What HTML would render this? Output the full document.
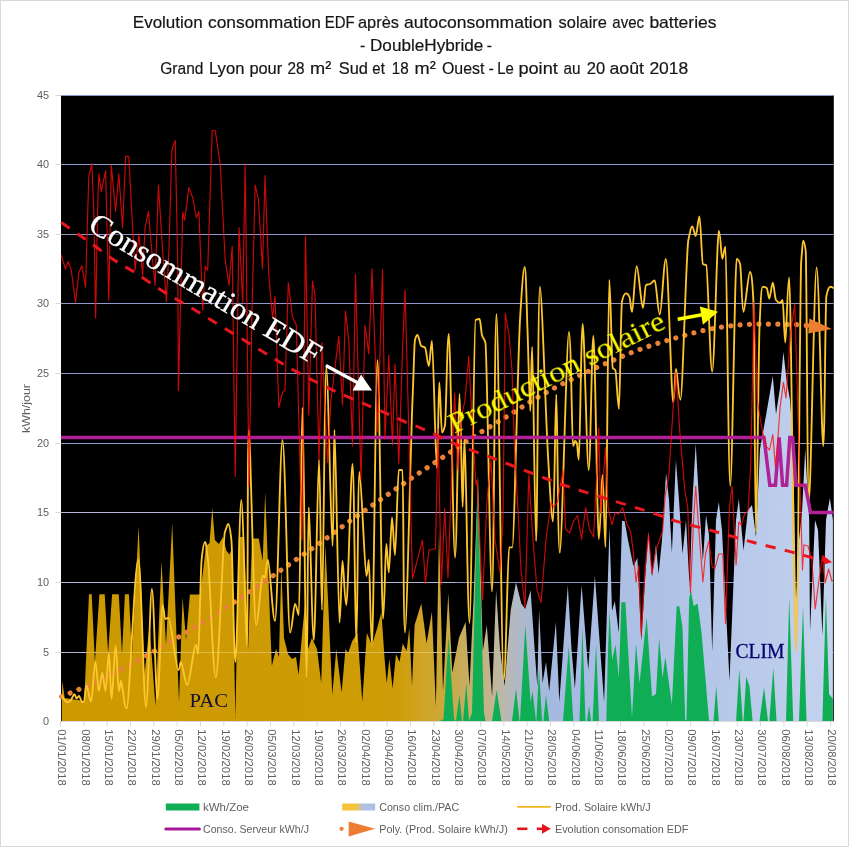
<!DOCTYPE html>
<html><head><meta charset="utf-8"><title>Evolution consommation EDF</title>
<style>html,body{margin:0;padding:0;background:#fff}body{width:849px;height:847px;overflow:hidden;font-family:"Liberation Sans",sans-serif}</style>
</head><body>
<svg width="849" height="847" viewBox="0 0 849 847" style="display:block;font-family:'Liberation Sans',sans-serif">
<defs>
<linearGradient id="g1" gradientUnits="userSpaceOnUse" x1="61" y1="0" x2="834" y2="0">
<stop offset="0" stop-color="#CC9900"/><stop offset="0.4321" stop-color="#CE9C06"/><stop offset="0.4709" stop-color="#D0A426"/><stop offset="0.4916" stop-color="#CDA837"/><stop offset="0.5123" stop-color="#C8AA50"/><stop offset="0.5330" stop-color="#C5B070"/><stop offset="0.5537" stop-color="#C3B48C"/><stop offset="0.5770" stop-color="#B9B9B4"/><stop offset="0.5925" stop-color="#AFB9C8"/><stop offset="0.6132" stop-color="#A8B9D8"/><stop offset="0.6391" stop-color="#A5B9E1"/><stop offset="0.8266" stop-color="#B3C5E8"/><stop offset="0.9987" stop-color="#C3D2EE"/>
</linearGradient>
<linearGradient id="g2" x1="0" y1="0" x2="1" y2="0"><stop offset="0" stop-color="#F7C232"/><stop offset="0.45" stop-color="#F3C446"/><stop offset="0.6" stop-color="#B4C2DE"/><stop offset="1" stop-color="#A9BEE6"/></linearGradient>
<clipPath id="cp"><rect x="59" y="95" width="774.8" height="626"/></clipPath>
<filter id="sh" x="-10%" y="-10%" width="120%" height="120%"><feGaussianBlur stdDeviation="0.6"/></filter>
</defs>
<rect x="0" y="0" width="849" height="847" fill="#fff"/>
<rect x="0.5" y="0.5" width="848" height="846" fill="none" stroke="#D9D9D9" stroke-width="1"/>
<rect x="61" y="95" width="772.8" height="626" fill="#000"/>
<line x1="55.5" x2="61" y1="652.50" y2="652.50" stroke="#D9D9D9" stroke-width="1"/>
<line x1="55.5" x2="61" y1="582.50" y2="582.50" stroke="#D9D9D9" stroke-width="1"/>
<line x1="55.5" x2="61" y1="512.50" y2="512.50" stroke="#D9D9D9" stroke-width="1"/>
<line x1="55.5" x2="61" y1="443.50" y2="443.50" stroke="#D9D9D9" stroke-width="1"/>
<line x1="55.5" x2="61" y1="373.50" y2="373.50" stroke="#D9D9D9" stroke-width="1"/>
<line x1="55.5" x2="61" y1="303.50" y2="303.50" stroke="#D9D9D9" stroke-width="1"/>
<line x1="55.5" x2="61" y1="234.50" y2="234.50" stroke="#D9D9D9" stroke-width="1"/>
<line x1="55.5" x2="61" y1="164.50" y2="164.50" stroke="#D9D9D9" stroke-width="1"/>
<line x1="55.5" x2="61" y1="95.50" y2="95.50" stroke="#D9D9D9" stroke-width="1"/>
<g clip-path="url(#cp)">
<line x1="61" x2="833.7" y1="652.50" y2="652.50" stroke="#9097CB" stroke-width="1.15"/>
<line x1="61" x2="833.7" y1="582.50" y2="582.50" stroke="#9097CB" stroke-width="1.15"/>
<line x1="61" x2="833.7" y1="512.50" y2="512.50" stroke="#9097CB" stroke-width="1.15"/>
<line x1="61" x2="833.7" y1="443.50" y2="443.50" stroke="#9097CB" stroke-width="1.15"/>
<line x1="61" x2="833.7" y1="373.50" y2="373.50" stroke="#9097CB" stroke-width="1.15"/>
<line x1="61" x2="833.7" y1="303.50" y2="303.50" stroke="#9097CB" stroke-width="1.15"/>
<line x1="61" x2="833.7" y1="234.50" y2="234.50" stroke="#9097CB" stroke-width="1.15"/>
<line x1="61" x2="833.7" y1="164.50" y2="164.50" stroke="#9097CB" stroke-width="1.15"/>
<line x1="61" x2="833.7" y1="95.50" y2="95.50" stroke="#9097CB" stroke-width="1.15"/>
<polygon points="61.8,721.0 61.8,697.0 62.4,681.0 64.6,698.0 84.2,701.0 89.0,594.3 91.7,594.3 94.9,662.0 99.4,594.3 104.7,594.3 108.1,653.0 112.1,594.3 118.8,594.3 122.0,654.0 124.9,594.3 128.9,594.3 132.0,657.0 138.6,526.0 144.5,675.0 149.5,625.0 155.4,706.0 161.5,561.0 166.0,645.0 172.2,523.0 179.0,702.0 182.6,597.0 186.0,640.0 189.9,594.5 200.2,594.5 206.0,546.0 209.5,543.0 212.3,508.0 214.9,540.0 218.9,544.0 222.9,537.0 226.3,550.5 229.5,554.5 232.2,548.0 235.4,718.0 238.8,537.0 244.1,537.0 248.1,649.0 252.1,538.5 258.8,538.5 262.7,561.0 265.2,492.0 268.5,580.0 271.8,666.0 276.0,649.0 279.0,657.0 281.3,566.0 284.0,638.0 288.0,654.0 292.0,659.0 296.0,657.0 298.6,675.0 302.6,628.0 305.3,601.0 308.0,649.0 311.9,638.0 317.0,649.0 321.2,683.0 325.4,545.0 328.5,610.0 332.3,695.0 336.3,649.0 341.6,692.6 345.5,649.0 348.2,653.0 352.2,641.0 357.5,633.0 362.3,702.0 366.8,633.0 372.0,645.0 377.4,627.5 381.4,612.0 384.6,659.0 386.7,683.0 389.4,659.0 392.6,688.6 396.0,654.0 399.5,662.0 402.7,643.5 406.7,651.0 409.3,627.5 412.0,686.0 414.6,625.0 421.3,603.6 426.6,643.5 431.9,611.6 435.9,707.0 439.0,530.0 443.0,691.0 448.3,593.0 452.3,672.7 458.9,638.0 465.6,622.0 469.5,686.0 473.5,600.0 478.0,475.0 482.8,651.0 486.8,625.0 492.1,696.6 496.1,590.0 500.0,649.0 504.6,686.0 510.7,610.0 516.0,582.4 521.3,603.6 525.3,609.0 530.6,590.3 534.6,649.0 537.3,686.0 539.1,609.0 542.6,683.0 546.0,662.0 549.2,691.0 555.9,622.0 559.3,702.0 567.8,585.0 571.5,649.0 574.9,688.6 581.6,585.0 588.2,670.0 594.9,575.7 599.0,633.0 604.1,702.0 609.5,526.6 612.0,611.0 614.8,601.0 618.8,632.8 622.0,521.0 624.6,521.0 628.0,540.0 633.4,566.0 637.4,558.0 641.3,641.0 645.0,580.0 648.5,531.4 652.0,576.6 656.0,544.7 658.6,574.0 662.0,540.0 666.0,473.0 669.0,500.0 671.9,552.7 675.9,459.7 679.0,500.0 682.5,554.0 686.0,520.0 689.6,587.0 692.5,500.0 695.7,443.5 699.0,500.0 702.9,561.0 706.0,515.0 709.0,535.0 712.2,651.4 716.0,520.0 718.8,502.0 722.0,530.0 729.5,680.7 736.0,520.0 738.8,499.0 743.5,550.5 748.0,510.0 752.0,505.0 756.0,537.0 760.0,449.0 766.7,411.6 772.8,375.7 776.0,414.2 780.0,387.7 783.4,352.0 786.6,380.0 790.0,400.0 793.0,440.0 796.0,600.0 799.0,540.0 802.0,512.0 805.2,448.8 809.2,520.0 810.0,631.5 815.0,520.0 818.0,530.0 822.4,635.5 826.0,520.0 829.9,498.0 832.9,520.0 832.9,721.0" fill="url(#g1)"/>
<polygon points="440.0,721.0 443.5,719.0 448.6,637.0 454.0,719.0 456.0,721.0 459.4,695.0 462.0,721.0 463.0,721.0 466.3,683.0 469.0,721.0 472.0,713.0 477.5,487.0 484.0,713.0 485.5,721.0 492.0,721.0 496.6,690.0 501.5,721.0 512.0,721.0 516.0,688.6 519.5,721.0 520.0,721.0 525.3,625.0 530.6,702.0 532.5,691.3 536.0,721.0 536.4,721.0 539.0,669.0 542.0,721.0 543.4,721.0 546.0,695.0 549.2,721.0 563.0,721.0 568.8,646.0 573.3,721.0 579.5,721.0 582.4,627.5 585.5,721.0 587.0,721.0 589.0,706.0 591.0,721.0 592.6,721.0 596.1,643.7 599.0,721.0 606.3,721.0 608.0,650.0 609.5,611.6 612.1,660.0 615.6,644.8 618.8,678.0 621.4,602.3 625.4,602.3 632.0,717.8 636.0,643.5 639.5,683.3 646.7,616.9 652.0,696.6 656.0,694.0 659.1,638.0 662.6,678.0 665.3,656.7 671.9,704.6 676.7,606.3 679.3,606.3 682.5,627.5 685.2,720.0 686.5,720.0 689.2,598.3 690.9,590.3 693.6,606.0 697.6,603.6 701.6,633.0 709.0,720.5 713.5,721.0 716.2,686.0 718.8,721.0 736.1,721.0 739.3,668.7 742.7,721.0 743.5,721.0 746.2,676.7 749.4,686.0 752.6,721.0 759.5,721.0 764.0,687.3 768.0,721.0 769.3,721.0 773.3,667.4 776.5,721.0 786.0,721.0 789.2,597.0 793.2,721.0 799.0,721.0 803.0,606.3 806.5,721.0 822.4,721.0 825.9,595.6 829.1,694.0 832.9,699.0 832.9,721.0" fill="#0FAE55"/>
<line x1="61" x2="455" y1="652.50" y2="652.50" stroke="#ffffff" stroke-width="1" opacity="0.3"/>
<line x1="61" x2="455" y1="582.50" y2="582.50" stroke="#ffffff" stroke-width="1" opacity="0.3"/>
<line x1="61" x2="455" y1="512.50" y2="512.50" stroke="#ffffff" stroke-width="1" opacity="0.3"/>
<path d="M61.6,696.6C67.3,694.2 84.4,687.2 95.6,682.0C106.8,676.8 117.9,671.1 128.9,665.2C139.9,659.4 151.0,653.1 161.8,646.9C172.6,640.7 183.2,634.5 193.7,628.0C204.2,621.5 214.5,615.0 224.9,608.2C235.3,601.5 245.9,594.6 256.3,587.5C266.7,580.4 277.1,572.8 287.5,565.5C297.9,558.2 308.6,551.1 318.8,543.8C329.0,536.5 338.6,529.1 348.8,521.8C359.0,514.5 369.6,507.2 380.0,500.0C390.4,492.8 400.8,485.4 411.3,478.3C421.8,471.2 432.4,464.2 442.9,457.2C453.3,450.2 463.4,443.2 474.0,436.5C484.6,429.8 495.6,423.4 506.2,416.9C516.8,410.4 527.0,403.5 537.8,397.3C548.6,391.1 559.7,385.1 570.8,379.6C581.9,374.1 592.9,369.1 604.2,364.2C615.5,359.2 626.9,354.2 638.5,349.9C650.1,345.6 662.1,341.9 673.9,338.5C685.7,335.1 697.2,331.6 709.5,329.2C721.8,326.8 734.5,325.2 747.5,324.4C760.5,323.6 779.1,324.3 787.4,324.4C795.6,324.4 795.4,324.6 797.0,324.7" fill="none" stroke="#E8813A" stroke-width="5.2" stroke-linecap="round" stroke-dasharray="0.01 9.385"/>
<path d="M62.2,696.0C62.5,696.6 63.1,698.5 64.0,699.5C64.9,700.5 66.3,702.3 67.4,702.3C68.5,702.3 69.3,701.8 70.5,700.8C71.7,699.8 73.3,694.2 74.3,694.2C75.3,694.2 75.8,698.5 76.6,698.5C77.4,698.5 78.1,695.8 79.0,695.8C79.9,695.8 81.2,702.0 82.0,702.0C82.8,702.0 83.2,701.8 84.0,701.5C84.8,701.2 85.3,685.5 86.5,685.5C87.7,685.5 89.5,701.5 91.0,701.5C92.5,701.5 94.1,662.0 95.4,662.0C96.7,662.0 97.7,691.0 98.8,691.0C99.9,691.0 101.2,673.0 102.3,673.0C103.4,673.0 104.4,691.0 105.5,691.0C106.6,691.0 107.9,653.0 108.9,653.0C109.9,653.0 110.5,699.0 111.6,699.0C112.7,699.0 114.4,646.0 115.6,646.0C116.8,646.0 117.9,691.0 118.8,691.0C119.7,691.0 120.3,681.0 121.0,681.0C121.7,681.0 121.8,685.4 122.8,690.0C123.8,694.6 124.2,708.6 126.7,708.6C129.2,708.6 134.9,559.6 138.1,559.6C141.3,559.6 143.6,707.0 145.9,707.0C148.2,707.0 150.0,589.0 151.9,589.0C153.8,589.0 155.7,699.0 157.4,699.0C159.2,699.0 161.1,605.0 162.4,605.0C163.7,605.0 164.2,619.0 165.2,619.0C166.2,619.0 166.4,618.0 168.6,618.0C170.8,618.0 176.1,670.0 178.2,670.0C180.3,670.0 179.5,662.0 181.0,662.0C182.5,662.0 184.9,685.0 187.3,685.0C189.7,685.0 193.8,645.0 195.6,645.0C197.4,645.0 197.2,654.0 198.2,654.0C199.2,654.0 200.4,572.0 201.6,560.0C202.8,548.0 204.1,542.0 205.2,542.0C206.3,542.0 206.2,548.0 208.0,560.0C209.8,572.0 213.0,677.5 215.8,677.5C218.6,677.5 222.8,537.3 224.9,532.0C227.0,526.7 227.1,524.0 228.2,524.0C229.3,524.0 230.2,529.3 231.4,540.0C232.6,550.7 233.8,662.0 235.4,662.0C237.1,662.0 239.4,500.0 241.3,500.0C243.2,500.0 245.6,645.0 246.8,645.0C248.1,645.0 247.2,430.0 248.8,430.0C250.4,430.0 253.8,625.0 256.1,625.0C258.4,625.0 261.0,576.0 262.5,576.0C264.0,576.0 264.1,577.5 265.0,577.5C265.9,577.5 266.3,560.0 268.0,560.0C269.7,560.0 272.6,621.0 275.0,621.0C277.4,621.0 280.0,440.0 282.5,440.0C285.0,440.0 287.9,632.5 290.0,632.5C292.1,632.5 293.5,603.8 295.0,603.8C296.5,603.8 297.6,615.0 298.8,615.0C300.1,615.0 301.2,407.5 302.5,407.5C303.8,407.5 305.4,677.0 306.5,677.0C307.6,677.0 307.6,507.5 308.8,507.5C310.0,507.5 312.1,640.0 313.8,640.0C315.5,640.0 317.6,460.0 319.0,460.0C320.4,460.0 320.8,610.0 322.0,610.0C323.2,610.0 324.6,367.5 326.3,367.5C328.1,367.5 331.1,546.0 332.5,546.0C333.9,546.0 333.3,430.0 334.5,430.0C335.7,430.0 338.2,622.5 339.5,622.5C340.8,622.5 341.4,561.0 342.5,561.0C343.6,561.0 344.6,605.0 346.3,605.0C348.0,605.0 350.8,464.0 352.5,464.0C354.2,464.0 355.1,642.5 356.3,642.5C357.5,642.5 357.8,472.0 359.5,472.0C361.2,472.0 364.8,576.0 366.3,576.0C367.9,576.0 367.9,560.0 368.8,560.0C369.8,560.0 370.6,645.0 372.0,645.0C373.4,645.0 375.7,360.0 377.5,360.0C379.3,360.0 381.5,618.8 383.0,618.8C384.5,618.8 385.3,543.8 386.3,543.8C387.3,543.8 387.9,572.5 388.8,572.5C389.8,572.5 391.0,517.5 392.0,517.5C393.0,517.5 393.9,555.0 395.0,555.0C396.1,555.0 397.6,470.0 398.8,470.0C400.1,470.0 401.5,470.0 402.5,470.0C403.5,470.0 403.3,632.5 405.0,632.5C406.7,632.5 410.8,440.0 412.5,400.0C414.2,360.0 414.2,343.3 415.0,340.0C415.8,336.7 416.4,335.0 417.5,335.0C418.6,335.0 420.1,345.0 421.3,346.0C422.6,347.0 423.8,346.5 425.0,347.5C426.2,348.5 427.6,366.0 428.8,366.0C430.0,366.0 430.7,341.0 432.0,341.0C433.3,341.0 435.6,468.0 436.8,468.0C438.0,468.0 438.4,382.5 439.3,382.5C440.2,382.5 441.1,432.5 442.0,432.5C442.9,432.5 443.9,430.0 445.0,425.0C446.1,420.0 447.1,333.8 448.8,333.8C450.5,333.8 453.2,557.5 455.0,557.5C456.8,557.5 458.2,394.0 459.5,394.0C460.8,394.0 461.8,507.0 462.6,507.0C463.5,507.0 463.5,439.0 464.6,439.0C465.8,439.0 467.7,623.0 469.5,623.0C471.3,623.0 473.8,320.7 475.5,320.0C477.2,319.3 478.4,319.0 479.5,319.0C480.6,319.0 481.0,331.1 482.0,335.0C483.0,338.9 483.7,337.5 485.4,342.5C487.1,347.5 490.1,591.5 492.0,591.5C493.9,591.5 494.6,314.0 496.5,314.0C498.4,314.0 501.6,680.0 503.7,680.0C505.8,680.0 507.7,547.4 509.1,547.4C510.5,547.4 510.5,547.4 512.3,547.4C514.1,547.4 517.9,355.3 520.0,320.0C522.1,284.7 523.5,267.0 524.7,267.0C526.0,267.0 526.6,306.0 527.5,330.0C528.4,354.0 529.5,411.0 530.3,411.0C531.1,411.0 531.2,347.0 532.2,347.0C533.2,347.0 534.8,541.0 536.1,541.0C537.4,541.0 538.0,286.7 539.9,286.7C541.8,286.7 545.6,412.9 547.8,452.0C550.0,491.1 551.6,521.5 553.0,521.5C554.4,521.5 555.2,394.5 556.3,394.5C557.4,394.5 557.7,552.7 559.8,552.7C561.9,552.7 566.7,331.8 568.9,331.8C571.1,331.8 572.0,446.0 573.0,446.0C574.0,446.0 574.3,441.0 575.0,441.0C575.7,441.0 576.4,441.9 577.0,443.8C577.6,445.7 577.9,459.7 578.9,459.7C579.9,459.7 581.1,323.9 582.7,323.9C584.3,323.9 586.9,470.0 588.7,470.0C590.5,470.0 591.7,335.8 593.4,335.8C595.1,335.8 597.3,539.0 598.8,539.0C600.3,539.0 601.4,475.0 602.5,475.0C603.6,475.0 604.4,547.0 605.5,547.0C606.6,547.0 608.1,280.0 609.3,280.0C610.5,280.0 611.7,365.9 612.7,367.7C613.7,369.5 614.4,368.6 615.4,370.4C616.4,372.2 617.8,408.9 618.9,408.9C620.0,408.9 620.8,306.6 622.0,301.3C623.2,296.0 624.8,293.3 626.0,293.3C627.2,293.3 628.5,294.5 629.5,297.0C630.5,299.5 630.9,311.9 632.1,311.9C633.3,311.9 634.9,266.2 636.7,266.2C638.5,266.2 641.2,307.9 642.8,307.9C644.3,307.9 644.8,285.7 646.0,285.0C647.2,284.3 648.5,284.7 650.0,284.0C651.5,283.3 653.1,280.5 654.7,280.5C656.3,280.5 657.9,314.6 659.8,314.6C661.7,314.6 663.7,258.8 665.9,258.8C668.1,258.8 671.4,402.2 673.1,402.2C674.8,402.2 674.8,369.0 676.0,369.0C677.2,369.0 678.5,399.6 680.5,399.6C682.5,399.6 686.3,249.5 688.3,240.2C690.3,230.9 691.1,226.3 692.3,226.3C693.5,226.3 694.5,236.0 695.7,236.0C696.9,236.0 698.2,216.3 699.4,216.3C700.6,216.3 701.8,263.1 702.9,264.0C704.0,264.9 704.8,264.5 706.3,265.4C707.8,266.3 710.1,371.7 712.2,371.7C714.3,371.7 717.1,230.9 718.8,230.9C720.5,230.9 721.2,258.8 722.3,258.8C723.4,258.8 724.2,246.8 725.5,246.8C726.8,246.8 728.4,486.0 730.3,486.0C732.1,486.0 735.0,258.8 736.6,258.8C738.2,258.8 739.0,260.5 740.1,264.0C741.2,267.5 741.9,311.9 743.5,311.9C745.1,311.9 748.2,272.0 749.9,272.0C751.5,272.0 752.4,281.7 753.4,301.0C754.4,320.3 755.0,532.0 756.0,532.0C757.0,532.0 758.4,355.2 759.5,327.8C760.6,300.4 761.5,286.7 762.7,286.7C763.9,286.7 765.6,287.1 766.7,288.0C767.8,288.9 768.3,298.6 769.3,298.6C770.3,298.6 771.7,282.7 772.8,282.7C773.9,282.7 774.8,298.3 776.0,300.0C777.2,301.7 778.9,302.6 780.0,302.6C781.1,302.6 781.7,300.0 782.6,300.0C783.5,300.0 784.2,342.4 785.3,342.4C786.4,342.4 787.4,277.4 789.2,277.4C791.0,277.4 794.0,651.0 796.0,651.0C798.0,651.0 800.0,275.2 801.2,261.4C802.4,247.6 802.5,240.7 803.3,240.7C804.0,240.7 804.8,244.1 805.7,250.8C806.7,257.5 807.2,500.0 809.0,500.0C810.8,500.0 814.2,267.3 816.6,267.3C819.0,267.3 821.6,446.0 823.2,446.0C824.8,446.0 825.2,302.2 826.4,296.0C827.6,289.8 829.2,286.7 830.4,286.7C831.6,286.7 833.1,287.8 833.6,288.0" fill="none" stroke="#FCC62C" stroke-width="1.85" stroke-linejoin="round" stroke-linecap="round"/>
<polygon points="809.4,318.4 831.8,329 808.2,333.4" fill="#ED7D31"/><circle cx="806.5" cy="325.6" r="2.8" fill="#ED7D31"/>
<polyline points="61.0,437.4 764.0,437.4 769.8,485.2 775.4,485.2 779.1,437.4 782.6,485.2 786.6,485.2 789.8,437.4 792.7,437.4 795.9,485.2 805.2,485.2 810.5,512.5 833.7,512.5" fill="none" stroke="#B02096" stroke-width="3.5" stroke-linejoin="miter"/>
<polyline points="61.3,255.2 65.5,269.0 68.0,261.4 71.3,270.2 75.5,302.7 78.8,272.7 81.8,265.7 85.5,287.2 88.8,176.3 91.8,163.8 93.8,210.0 95.6,317.8 97.6,210.0 98.8,173.8 101.3,191.4 105.6,170.8 108.8,300.2 111.3,165.0 115.6,211.4 118.8,173.8 122.6,227.6 125.6,156.3 128.8,156.3 132.6,227.6 135.1,270.2 138.9,233.9 142.6,275.2 145.1,227.6 148.4,211.4 152.6,260.2 155.1,285.2 158.4,185.1 162.6,250.2 166.4,301.5 168.9,250.2 171.9,150.0 175.2,140.5 177.7,260.2 178.4,390.6 181.0,285.0 182.7,212.1 184.7,220.1 188.9,187.6 192.7,197.6 196.4,217.6 198.9,211.4 202.7,310.2 205.2,266.4 207.7,270.2 212.2,130.5 215.2,130.5 220.2,163.8 225.2,260.2 229.0,285.2 232.2,246.4 235.2,476.5 239.0,227.6 242.7,302.7 245.2,163.8 249.0,486.0 252.0,310.0 255.2,185.0 258.5,200.0 262.5,268.8 265.0,175.5 268.8,275.0 272.5,317.5 275.0,296.0 278.8,407.5 282.5,392.5 285.0,390.0 288.3,282.5 292.5,317.5 296.3,325.0 302.0,540.0 305.5,236.0 308.8,415.0 312.5,281.0 315.0,295.0 319.0,460.0 322.0,342.5 327.5,462.5 331.0,400.0 338.8,336.0 342.5,405.0 345.5,311.0 348.8,340.0 352.5,446.0 355.5,274.5 361.0,480.0 365.0,325.0 368.8,353.8 372.0,268.8 375.0,350.0 377.5,432.0 379.3,375.0 382.5,269.5 385.0,439.0 388.8,355.0 392.5,445.0 395.0,364.0 398.8,464.0 402.5,350.0 405.0,290.0 408.0,400.0 412.5,578.8 422.5,540.0 425.5,583.8 428.8,550.0 435.5,548.8 438.0,429.0 441.4,584.5 444.7,508.5 448.0,578.0 454.6,393.0 458.0,470.0 461.0,420.0 465.0,400.0 468.8,356.3 472.0,420.0 476.0,485.0 477.0,480.0 482.5,600.0 487.0,500.0 491.0,460.0 495.0,540.0 500.0,572.5 503.0,520.0 505.3,313.2 509.0,335.0 512.0,370.0 514.5,450.0 517.5,500.0 521.0,570.0 525.0,607.5 528.8,475.0 533.0,540.0 537.0,590.0 541.0,602.5 546.0,540.0 551.0,502.5 554.0,507.0 557.5,502.0 563.0,470.0 565.6,529.0 569.6,533.0 573.6,521.0 577.6,515.5 581.6,539.4 585.6,507.5 589.5,529.0 593.5,537.0 597.5,460.0 598.8,427.8 600.7,513.0 605.5,447.7 608.0,507.0 612.0,524.8 615.0,513.0 618.8,514.0 622.7,507.5 626.7,523.5 630.7,531.4 633.4,553.0 636.0,582.0 638.7,566.0 641.3,635.0 645.0,570.0 648.5,534.0 652.0,574.0 656.0,550.0 662.6,531.4 665.0,497.0 669.0,473.0 673.2,406.6 676.0,372.0 679.9,433.0 685.0,492.0 687.8,507.5 690.5,592.5 693.6,520.0 695.7,486.3 699.0,532.0 702.9,582.0 705.5,554.0 709.0,540.8 712.2,567.0 714.9,568.7 718.8,554.0 722.8,554.0 725.5,623.5 729.5,506.0 732.1,486.3 736.1,564.7 738.8,522.0 741.4,525.0 744.6,514.0 748.0,511.0 750.7,466.0 754.0,302.0 757.3,400.0 760.5,420.0 762.7,433.0 766.7,447.0 769.5,450.0 772.8,434.5 775.4,466.4 777.5,445.0 780.0,408.0 783.4,382.4 786.0,398.0 790.6,332.0 794.8,304.0 797.0,380.0 799.9,479.7 802.5,570.0 803.9,544.8 808.0,546.0 811.8,559.4 815.2,609.0 819.0,580.0 822.5,555.5 825.1,583.0 828.6,569.0 832.3,582.0" fill="none" stroke="#FF0A0A" stroke-opacity="0.8" stroke-width="1.15" stroke-linejoin="round"/>
<path d="M61.3,222.6C65.2,225.3 76.5,232.9 85.0,238.9C93.5,244.9 104.2,253.3 112.6,258.9C120.9,264.5 126.3,267.1 135.1,272.7C143.8,278.3 155.1,286.4 165.1,292.7C175.1,298.9 179.4,300.6 195.2,310.2C211.0,319.8 245.4,341.1 260.0,350.0C274.6,358.9 275.4,359.6 282.5,363.8C289.6,368.0 294.6,370.8 302.5,375.0C310.4,379.2 321.7,384.8 330.0,388.8C338.3,392.8 345.4,395.7 352.5,398.8C359.6,401.9 366.2,404.8 372.5,407.5C378.8,410.2 384.6,412.6 390.0,415.0C395.4,417.4 399.6,419.5 405.0,421.8C410.4,424.1 416.9,426.4 422.5,428.8C428.1,431.2 433.0,433.6 438.8,436.3C444.6,439.0 448.6,441.4 457.5,445.0C466.4,448.6 480.4,453.4 492.5,458.0C504.6,462.6 517.9,467.9 530.0,472.5C542.1,477.1 552.9,481.3 565.0,485.5C577.1,489.7 590.0,493.6 602.5,497.5C615.0,501.4 630.4,506.0 640.0,509.0C649.6,512.0 654.2,513.5 660.0,515.5C665.8,517.5 665.9,518.2 675.0,520.9C684.1,523.6 702.1,528.0 714.9,531.5C727.7,535.0 739.6,538.7 752.0,542.0C764.4,545.3 779.5,548.9 789.2,551.4C799.0,553.9 804.4,555.8 810.5,557.3C816.6,558.8 823.4,560.0 826.0,560.5" fill="none" stroke="#E8161E" stroke-width="3.0" stroke-dasharray="10.2 9.3" stroke-linecap="butt" stroke-dashoffset="0"/>
<polygon points="832,562.3 822.5,555 824.5,564.3" fill="#F01018"/>
<line x1="325.8" y1="365.5" x2="360" y2="384" stroke="#fff" stroke-width="3.2"/>
<polygon points="372,390.5 361,374.5 352.5,390.5" fill="#fff"/>
<line x1="677.7" y1="319.3" x2="706" y2="314" stroke="#FFFF00" stroke-width="3.6"/>
<polygon points="718,311.8 699.8,306.5 702.9,324.8" fill="#FFFF00"/>
<g font-family="'Liberation Serif',serif" opacity="0.995">
<text transform="translate(86.8,229.6) rotate(30.9)" font-size="31" fill="#000" opacity="0.55" filter="url(#sh)" textLength="264.5" lengthAdjust="spacingAndGlyphs" x="1" y="1.5">Consommation EDF</text>
<text transform="translate(86.8,229.6) rotate(30.9)" font-size="31" fill="#fff" stroke="#fff" stroke-width="0.3" textLength="264.5" lengthAdjust="spacingAndGlyphs">Consommation EDF</text>
<text transform="translate(454.3,433.8) rotate(-26.5)" font-size="29.5" fill="#FFFF00" textLength="238" lengthAdjust="spacingAndGlyphs">Production solaire</text>
<text x="189.5" y="707" font-size="19.5" fill="#10103A" textLength="38.5" lengthAdjust="spacingAndGlyphs">PAC</text>
<text x="735.5" y="657.5" font-size="20" fill="#000070" stroke="#000070" stroke-width="0.3" textLength="49" lengthAdjust="spacingAndGlyphs">CLIM</text>
</g>
</g>
<g opacity="0.995">
<line x1="60.5" x2="833.7" y1="721.5" y2="721.5" stroke="#D9D9D9" stroke-width="1"/>
<line x1="60.50" x2="60.50" y1="721" y2="726.5" stroke="#D9D9D9" stroke-width="1"/>
<text transform="translate(58.30,729.2) rotate(90)" font-size="10.9" fill="#5E5E5E" textLength="56.5" lengthAdjust="spacingAndGlyphs">01/01/2018</text>
<line x1="83.84" x2="83.84" y1="721" y2="726.5" stroke="#D9D9D9" stroke-width="1"/>
<text transform="translate(81.64,729.2) rotate(90)" font-size="10.9" fill="#5E5E5E" textLength="56.5" lengthAdjust="spacingAndGlyphs">08/01/2018</text>
<line x1="107.17" x2="107.17" y1="721" y2="726.5" stroke="#D9D9D9" stroke-width="1"/>
<text transform="translate(104.97,729.2) rotate(90)" font-size="10.9" fill="#5E5E5E" textLength="56.5" lengthAdjust="spacingAndGlyphs">15/01/2018</text>
<line x1="130.50" x2="130.50" y1="721" y2="726.5" stroke="#D9D9D9" stroke-width="1"/>
<text transform="translate(128.30,729.2) rotate(90)" font-size="10.9" fill="#5E5E5E" textLength="56.5" lengthAdjust="spacingAndGlyphs">22/01/2018</text>
<line x1="153.84" x2="153.84" y1="721" y2="726.5" stroke="#D9D9D9" stroke-width="1"/>
<text transform="translate(151.64,729.2) rotate(90)" font-size="10.9" fill="#5E5E5E" textLength="56.5" lengthAdjust="spacingAndGlyphs">29/01/2018</text>
<line x1="177.18" x2="177.18" y1="721" y2="726.5" stroke="#D9D9D9" stroke-width="1"/>
<text transform="translate(174.97,729.2) rotate(90)" font-size="10.9" fill="#5E5E5E" textLength="56.5" lengthAdjust="spacingAndGlyphs">05/02/2018</text>
<line x1="200.51" x2="200.51" y1="721" y2="726.5" stroke="#D9D9D9" stroke-width="1"/>
<text transform="translate(198.31,729.2) rotate(90)" font-size="10.9" fill="#5E5E5E" textLength="56.5" lengthAdjust="spacingAndGlyphs">12/02/2018</text>
<line x1="223.84" x2="223.84" y1="721" y2="726.5" stroke="#D9D9D9" stroke-width="1"/>
<text transform="translate(221.64,729.2) rotate(90)" font-size="10.9" fill="#5E5E5E" textLength="56.5" lengthAdjust="spacingAndGlyphs">19/02/2018</text>
<line x1="247.18" x2="247.18" y1="721" y2="726.5" stroke="#D9D9D9" stroke-width="1"/>
<text transform="translate(244.98,729.2) rotate(90)" font-size="10.9" fill="#5E5E5E" textLength="56.5" lengthAdjust="spacingAndGlyphs">26/02/2018</text>
<line x1="270.51" x2="270.51" y1="721" y2="726.5" stroke="#D9D9D9" stroke-width="1"/>
<text transform="translate(268.31,729.2) rotate(90)" font-size="10.9" fill="#5E5E5E" textLength="56.5" lengthAdjust="spacingAndGlyphs">05/03/2018</text>
<line x1="293.85" x2="293.85" y1="721" y2="726.5" stroke="#D9D9D9" stroke-width="1"/>
<text transform="translate(291.65,729.2) rotate(90)" font-size="10.9" fill="#5E5E5E" textLength="56.5" lengthAdjust="spacingAndGlyphs">12/03/2018</text>
<line x1="317.19" x2="317.19" y1="721" y2="726.5" stroke="#D9D9D9" stroke-width="1"/>
<text transform="translate(314.99,729.2) rotate(90)" font-size="10.9" fill="#5E5E5E" textLength="56.5" lengthAdjust="spacingAndGlyphs">19/03/2018</text>
<line x1="340.52" x2="340.52" y1="721" y2="726.5" stroke="#D9D9D9" stroke-width="1"/>
<text transform="translate(338.32,729.2) rotate(90)" font-size="10.9" fill="#5E5E5E" textLength="56.5" lengthAdjust="spacingAndGlyphs">26/03/2018</text>
<line x1="363.86" x2="363.86" y1="721" y2="726.5" stroke="#D9D9D9" stroke-width="1"/>
<text transform="translate(361.66,729.2) rotate(90)" font-size="10.9" fill="#5E5E5E" textLength="56.5" lengthAdjust="spacingAndGlyphs">02/04/2018</text>
<line x1="387.19" x2="387.19" y1="721" y2="726.5" stroke="#D9D9D9" stroke-width="1"/>
<text transform="translate(384.99,729.2) rotate(90)" font-size="10.9" fill="#5E5E5E" textLength="56.5" lengthAdjust="spacingAndGlyphs">09/04/2018</text>
<line x1="410.53" x2="410.53" y1="721" y2="726.5" stroke="#D9D9D9" stroke-width="1"/>
<text transform="translate(408.33,729.2) rotate(90)" font-size="10.9" fill="#5E5E5E" textLength="56.5" lengthAdjust="spacingAndGlyphs">16/04/2018</text>
<line x1="433.86" x2="433.86" y1="721" y2="726.5" stroke="#D9D9D9" stroke-width="1"/>
<text transform="translate(431.66,729.2) rotate(90)" font-size="10.9" fill="#5E5E5E" textLength="56.5" lengthAdjust="spacingAndGlyphs">23/04/2018</text>
<line x1="457.19" x2="457.19" y1="721" y2="726.5" stroke="#D9D9D9" stroke-width="1"/>
<text transform="translate(455.00,729.2) rotate(90)" font-size="10.9" fill="#5E5E5E" textLength="56.5" lengthAdjust="spacingAndGlyphs">30/04/2018</text>
<line x1="480.53" x2="480.53" y1="721" y2="726.5" stroke="#D9D9D9" stroke-width="1"/>
<text transform="translate(478.33,729.2) rotate(90)" font-size="10.9" fill="#5E5E5E" textLength="56.5" lengthAdjust="spacingAndGlyphs">07/05/2018</text>
<line x1="503.87" x2="503.87" y1="721" y2="726.5" stroke="#D9D9D9" stroke-width="1"/>
<text transform="translate(501.67,729.2) rotate(90)" font-size="10.9" fill="#5E5E5E" textLength="56.5" lengthAdjust="spacingAndGlyphs">14/05/2018</text>
<line x1="527.20" x2="527.20" y1="721" y2="726.5" stroke="#D9D9D9" stroke-width="1"/>
<text transform="translate(525.00,729.2) rotate(90)" font-size="10.9" fill="#5E5E5E" textLength="56.5" lengthAdjust="spacingAndGlyphs">21/05/2018</text>
<line x1="550.54" x2="550.54" y1="721" y2="726.5" stroke="#D9D9D9" stroke-width="1"/>
<text transform="translate(548.34,729.2) rotate(90)" font-size="10.9" fill="#5E5E5E" textLength="56.5" lengthAdjust="spacingAndGlyphs">28/05/2018</text>
<line x1="573.87" x2="573.87" y1="721" y2="726.5" stroke="#D9D9D9" stroke-width="1"/>
<text transform="translate(571.67,729.2) rotate(90)" font-size="10.9" fill="#5E5E5E" textLength="56.5" lengthAdjust="spacingAndGlyphs">04/06/2018</text>
<line x1="597.21" x2="597.21" y1="721" y2="726.5" stroke="#D9D9D9" stroke-width="1"/>
<text transform="translate(595.01,729.2) rotate(90)" font-size="10.9" fill="#5E5E5E" textLength="56.5" lengthAdjust="spacingAndGlyphs">11/06/2018</text>
<line x1="620.54" x2="620.54" y1="721" y2="726.5" stroke="#D9D9D9" stroke-width="1"/>
<text transform="translate(618.34,729.2) rotate(90)" font-size="10.9" fill="#5E5E5E" textLength="56.5" lengthAdjust="spacingAndGlyphs">18/06/2018</text>
<line x1="643.88" x2="643.88" y1="721" y2="726.5" stroke="#D9D9D9" stroke-width="1"/>
<text transform="translate(641.68,729.2) rotate(90)" font-size="10.9" fill="#5E5E5E" textLength="56.5" lengthAdjust="spacingAndGlyphs">25/06/2018</text>
<line x1="667.21" x2="667.21" y1="721" y2="726.5" stroke="#D9D9D9" stroke-width="1"/>
<text transform="translate(665.01,729.2) rotate(90)" font-size="10.9" fill="#5E5E5E" textLength="56.5" lengthAdjust="spacingAndGlyphs">02/07/2018</text>
<line x1="690.55" x2="690.55" y1="721" y2="726.5" stroke="#D9D9D9" stroke-width="1"/>
<text transform="translate(688.35,729.2) rotate(90)" font-size="10.9" fill="#5E5E5E" textLength="56.5" lengthAdjust="spacingAndGlyphs">09/07/2018</text>
<line x1="713.88" x2="713.88" y1="721" y2="726.5" stroke="#D9D9D9" stroke-width="1"/>
<text transform="translate(711.68,729.2) rotate(90)" font-size="10.9" fill="#5E5E5E" textLength="56.5" lengthAdjust="spacingAndGlyphs">16/07/2018</text>
<line x1="737.22" x2="737.22" y1="721" y2="726.5" stroke="#D9D9D9" stroke-width="1"/>
<text transform="translate(735.02,729.2) rotate(90)" font-size="10.9" fill="#5E5E5E" textLength="56.5" lengthAdjust="spacingAndGlyphs">23/07/2018</text>
<line x1="760.55" x2="760.55" y1="721" y2="726.5" stroke="#D9D9D9" stroke-width="1"/>
<text transform="translate(758.35,729.2) rotate(90)" font-size="10.9" fill="#5E5E5E" textLength="56.5" lengthAdjust="spacingAndGlyphs">30/07/2018</text>
<line x1="783.88" x2="783.88" y1="721" y2="726.5" stroke="#D9D9D9" stroke-width="1"/>
<text transform="translate(781.69,729.2) rotate(90)" font-size="10.9" fill="#5E5E5E" textLength="56.5" lengthAdjust="spacingAndGlyphs">06/08/2018</text>
<line x1="807.22" x2="807.22" y1="721" y2="726.5" stroke="#D9D9D9" stroke-width="1"/>
<text transform="translate(805.02,729.2) rotate(90)" font-size="10.9" fill="#5E5E5E" textLength="56.5" lengthAdjust="spacingAndGlyphs">13/08/2018</text>
<line x1="830.56" x2="830.56" y1="721" y2="726.5" stroke="#D9D9D9" stroke-width="1"/>
<text transform="translate(828.36,729.2) rotate(90)" font-size="10.9" fill="#5E5E5E" textLength="56.5" lengthAdjust="spacingAndGlyphs">20/08/2018</text>
<text x="49" y="725.40" font-size="10.9" fill="#5E5E5E" text-anchor="end">0</text>
<text x="49" y="656.40" font-size="10.9" fill="#5E5E5E" text-anchor="end">5</text>
<text x="49" y="586.40" font-size="10.9" fill="#5E5E5E" text-anchor="end">10</text>
<text x="49" y="516.40" font-size="10.9" fill="#5E5E5E" text-anchor="end">15</text>
<text x="49" y="447.40" font-size="10.9" fill="#5E5E5E" text-anchor="end">20</text>
<text x="49" y="377.40" font-size="10.9" fill="#5E5E5E" text-anchor="end">25</text>
<text x="49" y="307.40" font-size="10.9" fill="#5E5E5E" text-anchor="end">30</text>
<text x="49" y="238.40" font-size="10.9" fill="#5E5E5E" text-anchor="end">35</text>
<text x="49" y="168.40" font-size="10.9" fill="#5E5E5E" text-anchor="end">40</text>
<text x="49" y="99.40" font-size="10.9" fill="#5E5E5E" text-anchor="end">45</text>
<text transform="translate(29.6,408.5) rotate(-90)" font-size="10.9" fill="#5E5E5E" text-anchor="middle" textLength="49" lengthAdjust="spacingAndGlyphs">kWh/jour</text>
</g>
<g fill="#161616" font-size="17" stroke="#161616" stroke-width="0.2">
<text x="132.8" y="28" textLength="69.9" lengthAdjust="spacingAndGlyphs">Evolution</text>
<text x="208.0" y="28" textLength="113.0" lengthAdjust="spacingAndGlyphs">consommation</text>
<text x="324.7" y="28" textLength="29.9" lengthAdjust="spacingAndGlyphs">EDF</text>
<text x="358.0" y="28" textLength="41.0" lengthAdjust="spacingAndGlyphs">après</text>
<text x="404.0" y="28" textLength="148.2" lengthAdjust="spacingAndGlyphs">autoconsommation</text>
<text x="558.6" y="28" textLength="48.4" lengthAdjust="spacingAndGlyphs">solaire</text>
<text x="612.3" y="28" textLength="31.7" lengthAdjust="spacingAndGlyphs">avec</text>
<text x="649.4" y="28" textLength="67.1" lengthAdjust="spacingAndGlyphs">batteries</text>
<text x="360.0" y="50.5" textLength="5.3" lengthAdjust="spacingAndGlyphs">-</text>
<text x="370.0" y="50.5" textLength="113.3" lengthAdjust="spacingAndGlyphs">DoubleHybride</text>
<text x="486.8" y="50.5" textLength="5.2" lengthAdjust="spacingAndGlyphs">-</text>
<text x="160.3" y="73.5" textLength="43.1" lengthAdjust="spacingAndGlyphs">Grand</text>
<text x="209.0" y="73.5" textLength="35.4" lengthAdjust="spacingAndGlyphs">Lyon</text>
<text x="249.4" y="73.5" textLength="32.8" lengthAdjust="spacingAndGlyphs">pour</text>
<text x="287.5" y="73.5" textLength="17.0" lengthAdjust="spacingAndGlyphs">28</text>
<text x="310.1" y="73.5" textLength="21.2" lengthAdjust="spacingAndGlyphs">m²</text>
<text x="338.8" y="73.5" textLength="29.2" lengthAdjust="spacingAndGlyphs">Sud</text>
<text x="372.3" y="73.5" textLength="12.5" lengthAdjust="spacingAndGlyphs">et</text>
<text x="391.8" y="73.5" textLength="16.9" lengthAdjust="spacingAndGlyphs">18</text>
<text x="414.5" y="73.5" textLength="21.2" lengthAdjust="spacingAndGlyphs">m²</text>
<text x="442.0" y="73.5" textLength="42.4" lengthAdjust="spacingAndGlyphs">Ouest</text>
<text x="488.6" y="73.5" textLength="5.4" lengthAdjust="spacingAndGlyphs">-</text>
<text x="497.2" y="73.5" textLength="16.6" lengthAdjust="spacingAndGlyphs">Le</text>
<text x="518.4" y="73.5" textLength="39.4" lengthAdjust="spacingAndGlyphs">point</text>
<text x="563.5" y="73.5" textLength="17.0" lengthAdjust="spacingAndGlyphs">au</text>
<text x="586.8" y="73.5" textLength="18.4" lengthAdjust="spacingAndGlyphs">20</text>
<text x="609.5" y="73.5" textLength="34.5" lengthAdjust="spacingAndGlyphs">août</text>
<text x="649.4" y="73.5" textLength="38.9" lengthAdjust="spacingAndGlyphs">2018</text>
</g>
<g font-size="10.9" fill="#5E5E5E">
<rect x="165.8" y="803.5" width="33.6" height="7" fill="#0FAE55"/>
<text x="203" y="811" textLength="46" lengthAdjust="spacingAndGlyphs">kWh/Zoe</text>
<rect x="342.2" y="803.5" width="33" height="7" fill="url(#g2)"/>
<text x="379.2" y="811" textLength="80" lengthAdjust="spacingAndGlyphs">Conso clim./PAC</text>
<line x1="517.2" x2="550.8" y1="806.8" y2="806.8" stroke="#F2B621" stroke-width="1.8"/>
<text x="555" y="811" textLength="95.7" lengthAdjust="spacingAndGlyphs">Prod. Solaire kWh/J</text>
<line x1="165.8" x2="199.4" y1="829" y2="829" stroke="#A6189A" stroke-width="3" stroke-linecap="round"/>
<text x="203" y="833" textLength="106" lengthAdjust="spacingAndGlyphs">Conso. Serveur kWh/J</text>
<circle cx="341.6" cy="828.8" r="2.1" fill="#ED7D31"/>
<polygon points="348.6,821.5 375,828.8 348.6,836.5" fill="#ED7D31"/>
<text x="379.2" y="833" textLength="128.6" lengthAdjust="spacingAndGlyphs">Poly. (Prod. Solaire kWh/J)</text>
<line x1="517.2" x2="527.4" y1="828.8" y2="828.8" stroke="#E0161C" stroke-width="2.6"/>
<line x1="536.8" x2="543" y1="828.8" y2="828.8" stroke="#E0161C" stroke-width="2.6"/>
<polygon points="550.8,828.8 542,823.8 542,833.8" fill="#E0161C"/>
<text x="555" y="833" textLength="133.4" lengthAdjust="spacingAndGlyphs">Evolution consomation EDF</text>
</g>
</svg>
</body></html>
